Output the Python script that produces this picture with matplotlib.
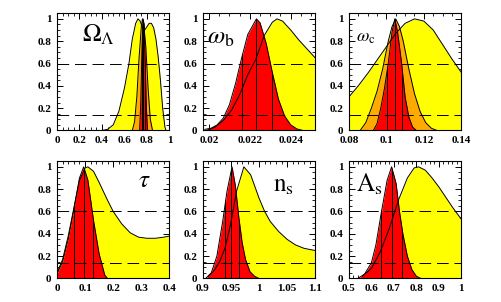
import numpy as np
import matplotlib
matplotlib.use('Agg')
import matplotlib.pyplot as plt
from matplotlib.ticker import MultipleLocator, FormatStrFormatter

plt.rcParams['font.family'] = 'Liberation Serif'
plt.rcParams['mathtext.fontset'] = 'stix'

# ---- Omega_Lambda ----
ol_yel_x = [0.40, 0.45, 0.50, 0.55, 0.60, 0.64, 0.67, 0.70, 0.72, 0.74, 0.76, 0.78, 0.80,
            0.82, 0.84, 0.86, 0.88, 0.90, 0.92, 0.94, 0.96, 0.97]
ol_yel_y = [0.0, 0.01, 0.05, 0.17, 0.38, 0.60, 0.82, 0.96, 1.0, 0.98, 0.92, 0.90, 0.93,
            0.96, 0.96, 0.92, 0.82, 0.66, 0.45, 0.20, 0.03, 0.0]
ol_ora_x = [0.67, 0.69, 0.71, 0.73, 0.75, 0.76, 0.77, 0.79, 0.81, 0.83, 0.85]
ol_ora_y = [0.0, 0.08, 0.30, 0.65, 0.93, 1.0, 0.97, 0.75, 0.38, 0.10, 0.0]
ol_red_x = [0.735, 0.745, 0.755, 0.765, 0.775, 0.785, 0.795, 0.805]
ol_red_y = [0.0, 0.25, 0.70, 1.0, 0.95, 0.60, 0.20, 0.0]
ol_vl = [0.755, 0.768, 0.782]

# ---- omega_b ----
ob_yel_x = [0.0199, 0.0203, 0.0207, 0.0211, 0.0215, 0.0219, 0.0223, 0.0227, 0.0231, 0.02333,
            0.0236, 0.0240, 0.0244, 0.0248, 0.0252]
ob_yel_y = [0.0, 0.03, 0.09, 0.18, 0.32, 0.50, 0.64, 0.85, 0.97, 1.0,
            0.98, 0.90, 0.81, 0.73, 0.65]
ob_red_x = [0.0198, 0.0201, 0.0204, 0.0207, 0.0210, 0.0213, 0.0216, 0.0219, 0.02232, 0.0225,
            0.0228, 0.0231, 0.0234, 0.0237, 0.0240, 0.0243, 0.0246]
ob_red_y = [0.01, 0.02, 0.05, 0.11, 0.23, 0.42, 0.65, 0.86, 1.0, 0.965,
            0.78, 0.52, 0.28, 0.13, 0.05, 0.014, 0.0]
ob_vl = [0.02164, 0.02232, 0.02306]

# ---- omega_c ----
oc_yel_x = [0.08, 0.085, 0.09, 0.095, 0.10, 0.105, 0.11, 0.115, 0.12, 0.125, 0.13, 0.135, 0.14]
oc_yel_y = [0.30, 0.40, 0.51, 0.63, 0.75, 0.87, 0.96, 1.0, 0.98, 0.90, 0.77, 0.64, 0.52]
oc_ora_x = [0.086, 0.089, 0.092, 0.095, 0.098, 0.101, 0.103, 0.105, 0.107, 0.109, 0.112,
            0.115, 0.118, 0.121, 0.124, 0.127]
oc_ora_y = [0.0, 0.07, 0.20, 0.35, 0.55, 0.80, 0.93, 1.0, 0.93, 0.80, 0.55,
            0.33, 0.17, 0.07, 0.02, 0.0]
oc_red_x = [0.093, 0.095, 0.097, 0.099, 0.101, 0.103, 0.1045, 0.106, 0.108, 0.110, 0.112,
            0.114, 0.116]
oc_red_y = [0.0, 0.06, 0.20, 0.38, 0.60, 0.88, 1.0, 0.88, 0.62, 0.30, 0.12, 0.03, 0.0]
oc_vl = [0.1002, 0.1046, 0.1085]

# ---- tau ----
ta_yel_x = [0.0, 0.02, 0.04, 0.06, 0.08, 0.10, 0.11, 0.13, 0.15, 0.18, 0.20, 0.23, 0.26,
            0.29, 0.32, 0.35, 0.38, 0.40]
ta_yel_y = [0.05, 0.17, 0.38, 0.63, 0.88, 0.99, 1.0, 0.96, 0.86, 0.70, 0.60, 0.49, 0.41,
            0.37, 0.36, 0.36, 0.37, 0.38]
ta_red_x = [0.0, 0.02, 0.04, 0.06, 0.08, 0.095, 0.11, 0.13, 0.15, 0.17, 0.18]
ta_red_y = [0.04, 0.15, 0.35, 0.62, 0.90, 1.0, 0.88, 0.52, 0.22, 0.03, 0.0]
ta_vl = [0.061, 0.095, 0.127]

# ---- n_s ----
ns_yel_x = [0.91, 0.92, 0.93, 0.94, 0.95, 0.96, 0.973, 0.985, 1.0, 1.01, 1.02, 1.035, 1.05,
            1.065, 1.08, 1.1]
ns_yel_y = [0.02, 0.07, 0.15, 0.28, 0.50, 0.78, 1.0, 0.93, 0.72, 0.60, 0.51, 0.42, 0.35,
            0.30, 0.27, 0.25]
ns_red_x = [0.905, 0.915, 0.925, 0.935, 0.943, 0.952, 0.958, 0.964, 0.970, 0.976, 0.984,
            0.992, 1.0]
ns_red_y = [0.0, 0.05, 0.20, 0.50, 0.78, 1.0, 0.83, 0.55, 0.32, 0.17, 0.06, 0.02, 0.0]
ns_vl = [0.9396, 0.9498, 0.9649]

# ---- A_s ----
as_yel_x = [0.56, 0.60, 0.64, 0.68, 0.72, 0.76, 0.79, 0.81, 0.84, 0.87, 0.90, 0.93, 0.96, 1.0]
as_yel_y = [0.02, 0.09, 0.24, 0.45, 0.70, 0.90, 0.99, 1.0, 0.97, 0.90, 0.82, 0.73, 0.64, 0.53]
as_red_x = [0.54, 0.57, 0.60, 0.62, 0.645, 0.67, 0.69, 0.71, 0.725, 0.74, 0.76, 0.78, 0.80, 0.82]
as_red_y = [0.0, 0.04, 0.14, 0.30, 0.60, 0.88, 1.0, 0.85, 0.60, 0.40, 0.20, 0.08, 0.02, 0.0]
as_vl = [0.645, 0.69, 0.735]

YEL = '#ffff00'
ORA = '#ffaa00'
RED = '#ff0000'

panels = [
    dict(xlim=(0, 1), major=0.2, minor=0.05,
         fills=[(ol_yel_x, ol_yel_y, YEL), (ol_ora_x, ol_ora_y, ORA), (ol_red_x, ol_red_y, RED)],
         vl=ol_vl, label=r'$\Omega_\Lambda$', lpos=(0.22, 0.76), fs=18),
    dict(xlim=(0.0197, 0.0252), major=0.002, minor=0.0005,
         fills=[(ob_yel_x, ob_yel_y, YEL), (ob_red_x, ob_red_y, RED)],
         vl=ob_vl, label=r'$\omega_{\rm b}$', lpos=(0.04, 0.74), fs=18),
    dict(xlim=(0.08, 0.14), major=0.02, minor=0.005,
         fills=[(oc_yel_x, oc_yel_y, YEL), (oc_ora_x, oc_ora_y, ORA), (oc_red_x, oc_red_y, RED)],
         vl=oc_vl, label=r'$\omega_{\rm c}$', lpos=(0.06, 0.76), fs=13),
    dict(xlim=(0, 0.4), major=0.1, minor=0.02,
         fills=[(ta_yel_x, ta_yel_y, YEL), (ta_red_x, ta_red_y, RED)],
         vl=ta_vl, label=r'$\tau$', lpos=(0.72, 0.78), fs=18),
    dict(xlim=(0.9, 1.1), major=0.05, minor=0.01,
         fills=[(ns_yel_x, ns_yel_y, YEL), (ns_red_x, ns_red_y, RED)],
         vl=ns_vl, label=r'$\mathrm{n}_{\rm s}$', lpos=(0.62, 0.74), fs=18),
    dict(xlim=(0.5, 1.0), major=0.1, minor=0.02,
         fills=[(as_yel_x, as_yel_y, YEL), (as_red_x, as_red_y, RED)],
         vl=as_vl, label=r'$\mathrm{A}_{\rm s}$', lpos=(0.06, 0.74), fs=18),
]

fig = plt.figure(figsize=(5.02, 3.02), dpi=100)
lefts = [0.1135, 0.404, 0.695]
bottoms = [0.568, 0.078]
w, h = 0.224, 0.388

for i, p in enumerate(panels):
    ax = fig.add_axes([lefts[i % 3], bottoms[i // 3], w, h])
    poly = None
    for x, y, c in p['fills']:
        poly = ax.fill_between(x, y, 0, color=c, lw=0, zorder=2)
        ax.plot(x, y, color='black', lw=0.7, zorder=3)
    # vertical lines inside the red region
    for v in p['vl']:
        ln, = ax.plot([v, v], [0, 1.05], color='black', lw=0.7, zorder=3)
        ln.set_clip_path(poly.get_paths()[0], poly.get_transform())
    for yy in (0.6, 0.135):
        ax.axhline(yy, color='black', lw=0.7, dashes=(12, 6), zorder=4)
    ax.set_xlim(*p['xlim'])
    ax.set_ylim(0, 1.05)
    ax.xaxis.set_major_locator(MultipleLocator(p['major']))
    ax.xaxis.set_minor_locator(MultipleLocator(p['minor']))
    ax.xaxis.set_major_formatter(FormatStrFormatter('%g'))
    ax.yaxis.set_major_locator(MultipleLocator(0.2))
    ax.yaxis.set_minor_locator(MultipleLocator(0.05))
    ax.yaxis.set_major_formatter(FormatStrFormatter('%g'))
    ax.tick_params(which='both', direction='in', top=True, right=True, labelsize=8)
    ax.tick_params(which='major', length=4, width=0.7, pad=4)
    ax.tick_params(which='minor', length=2, width=0.6)
    for lbl in ax.get_xticklabels() + ax.get_yticklabels():
        lbl.set_fontweight('bold')
    for s in ax.spines.values():
        s.set_linewidth(0.8)
    ax.text(p['lpos'][0], p['lpos'][1], p['label'], transform=ax.transAxes,
            fontsize=p['fs'], zorder=5)

plt.savefig('out.png', dpi=100)
